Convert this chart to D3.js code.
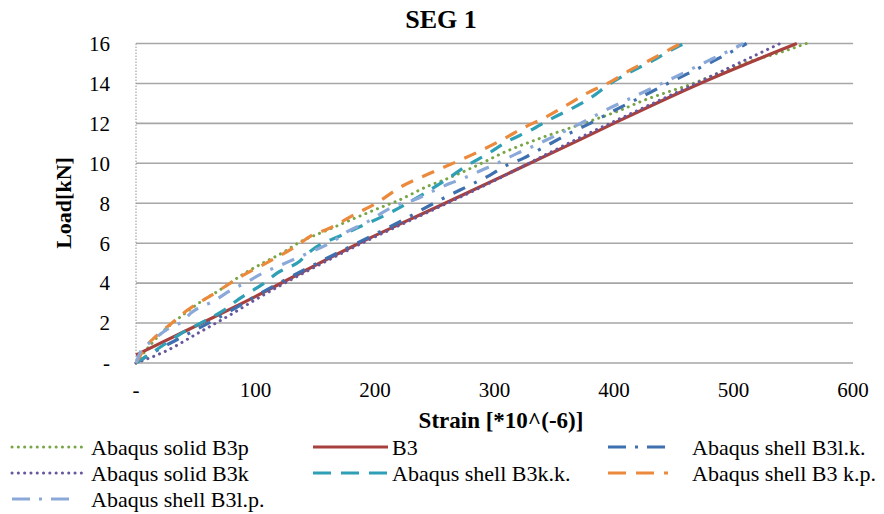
<!DOCTYPE html>
<html>
<head>
<meta charset="utf-8">
<script src="https://cdn.jsdelivr.net/npm/d3@7"></script>
<style>
  html, body { margin: 0; padding: 0; background: #fff; }
  svg { display: block; }
</style>
</head>
<body>
<svg id="chart" width="884" height="514" font-family="'Liberation Serif', 'Times New Roman', Times, serif"></svg>
<script>
// Load–strain curves for segment 1: [strain (×10^-6), load (kN)]
const solidB3p = [[0,0],[12,0.9],[23,1.6],[37,2.3],[55,3.1],[70,3.65],[91,4.5],[106,5.0],[122,5.5],[137,6.05],[160,6.65],[185,7.3],[201,7.7],[218,8.1],[246,8.9],[257,9.15],[282,9.8],[310,10.6],[338,11.25],[372,11.95],[405,12.65],[427,13.2],[444,13.55],[464,13.95],[483,14.4],[511,15.05],[539,15.55],[561,16]];
const testB3 = [[0,0.4],[50,1.85],[89,3.0],[185,5.95],[255,7.9],[280,8.6],[372,11.2],[405,12.15],[472,14.0],[553,16]];
const shellB3lk = [[0,0],[15,0.55],[40,1.35],[70,2.3],[112,3.75],[150,4.95],[185,6.0],[220,7.05],[254,8.15],[282,8.98],[296,9.4],[310,9.9],[324,10.25],[338,10.7],[366,11.6],[380,12.0],[394,12.45],[422,13.3],[450,14.15],[479,15.0],[508,15.9],[511,16]];
const solidB3k = [[0,0],[25,0.6],[52,1.5],[80,2.45],[98,3.1],[179,5.7],[255,7.85],[280,8.55],[372,11.3],[472,14.1],[539,16]];
const shellB3kk = [[0,0],[18,0.7],[37,1.45],[59,2.15],[75,2.7],[86,3.2],[106,3.95],[118,4.5],[137,5.1],[146,5.6],[174,6.45],[215,7.6],[260,9.2],[276,9.85],[295,10.5],[311,11.1],[330,11.65],[345,12.15],[381,13.3],[397,14.0],[413,14.55],[431,15.1],[452,15.8],[459,16]];
const shellB3kp = [[0,0],[10,0.95],[16,1.3],[27,1.85],[42,2.6],[66,3.5],[87,4.3],[112,5.1],[134,5.85],[146,6.35],[160,6.7],[185,7.5],[201,8.0],[221,8.8],[246,9.5],[271,10.15],[289,10.65],[307,11.2],[325,11.8],[344,12.35],[360,12.9],[377,13.5],[397,14.08],[413,14.65],[431,15.2],[448,15.75],[456,16]];
const shellB3lp = [[0,0],[5,0.7],[10,0.95],[28,1.75],[38,2.05],[47,2.55],[65,3.1],[81,3.7],[91,4.0],[106,4.5],[121,4.9],[140,5.4],[165,6.1],[176,6.55],[190,6.95],[218,7.9],[234,8.2],[248,8.6],[263,9.0],[276,9.3],[291,9.7],[304,10.05],[319,10.5],[334,10.9],[348,11.3],[362,11.7],[377,12.15],[390,12.57],[419,13.4],[447,14.2],[476,15.05],[505,15.9],[508,16]];

const seriesNames = ["Abaqus solid B3p","B3","Abaqus shell B3l.k.","Abaqus solid B3k","Abaqus shell B3k.k.","Abaqus shell B3 k.p.","Abaqus shell B3l.p."];
const xTicks = [0,100,200,300,400,500,600];
const yTicks = [0,2,4,6,8,10,12,14,16];

// drawing styles per series
const styles = [
  { data: solidB3p,  color: "#78a646", kind: "dot" },
  { data: testB3,    color: "#a8403d", kind: "solid" },
  { data: shellB3lk, color: "#3e70b0", kind: "dashdot" },
  { data: solidB3k,  color: "#67579c", kind: "dot" },
  { data: shellB3kk, color: "#2f9fb6", kind: "dash" },
  { data: shellB3kp, color: "#eb8a3d", kind: "dash" },
  { data: shellB3lp, color: "#8ba9d8", kind: "dashdot" }
];

const svg = d3.select("#chart");
const x = d3.scaleLinear().domain([0, 600]).range([136, 853]);
const y = d3.scaleLinear().domain([0, 16]).range([363, 43.5]);

// horizontal gridlines (including the zero line)
svg.append("g").selectAll("line").data(yTicks).join("line")
  .attr("x1", x(0)).attr("x2", x(600))
  .attr("y1", d => y(d)).attr("y2", d => y(d))
  .attr("stroke", "#a6a6a6").attr("stroke-width", 1.6);

// dotted vertical value axis line
svg.append("line")
  .attr("x1", x(0)).attr("x2", x(0)).attr("y1", y(16)).attr("y2", y(0))
  .attr("stroke", "#a6a6a6").attr("stroke-width", 1.2)
  .attr("stroke-dasharray", "1.5,1.5");

const fmt = d => d === 0 ? "-" : String(d);

// y tick labels
svg.append("g").selectAll("text").data(yTicks).join("text")
  .attr("x", 110).attr("y", d => y(d)).attr("dy", "0.35em")
  .attr("text-anchor", "end").attr("font-size", 21).text(fmt);

// x tick labels
svg.append("g").selectAll("text").data(xTicks).join("text")
  .attr("x", d => x(d)).attr("y", 390).attr("dy", "0.35em")
  .attr("text-anchor", "middle").attr("font-size", 21).text(fmt);

// titles
svg.append("text").attr("x", 441).attr("y", 19).attr("dy", "0.35em")
  .attr("text-anchor", "middle").attr("font-size", 26).attr("font-weight", "bold").text("SEG 1");
svg.append("text").attr("x", 501).attr("y", 420).attr("dy", "0.35em")
  .attr("text-anchor", "middle").attr("font-size", 23).attr("font-weight", "bold").text("Strain [*10^(-6)]");
svg.append("text").attr("transform", "translate(63,203) rotate(-90)").attr("dy", "0.35em")
  .attr("text-anchor", "middle").attr("font-size", 22).attr("font-weight", "bold").text("Load[kN]");

function applyStyle(sel, s, legend) {
  sel.attr("stroke", s.color).attr("fill", "none");
  if (s.kind === "solid") {
    sel.attr("stroke-width", 3.2);
  } else if (s.kind === "dot") {
    sel.attr("stroke-width", 3).attr("stroke-linecap", "round").attr("stroke-dasharray", "0.1,6.2");
  } else if (s.kind === "dash") {
    sel.attr("stroke-width", 3.2).attr("stroke-dasharray", legend ? "18,10" : "13,10");
  } else {
    sel.attr("stroke-width", 3.2).attr("stroke-dasharray", legend ? "18,9,3,9" : "13,10,3,10");
  }
}

// series lines
const line = d3.line().x(d => x(d[0])).y(d => y(d[1])).curve(d3.curveMonotoneX);
const plot = svg.append("g");
styles.forEach(s => {
  const p = plot.append("path").datum(s.data).attr("d", line);
  applyStyle(p, s, false);
});

// legend: three columns, filled row by row
const legendPos = [
  { x1: 12,  x2: 82,  tx: 91,  y: 447 },
  { x1: 313, x2: 388, tx: 392, y: 447 },
  { x1: 608, x2: 668, tx: 692, y: 447 },
  { x1: 12,  x2: 82,  tx: 91,  y: 473 },
  { x1: 313, x2: 388, tx: 392, y: 473 },
  { x1: 608, x2: 668, tx: 692, y: 473 },
  { x1: 12,  x2: 75,  tx: 91,  y: 499 }
];
const legend = svg.append("g");
styles.forEach((s, i) => {
  const p = legendPos[i];
  const l = legend.append("line").attr("x1", p.x1).attr("x2", p.x2).attr("y1", p.y).attr("y2", p.y);
  applyStyle(l, s, true);
  legend.append("text").attr("x", p.tx).attr("y", p.y).attr("dy", "0.35em")
    .attr("font-size", 22).text(seriesNames[i]);
});
</script>
</body>
</html>
